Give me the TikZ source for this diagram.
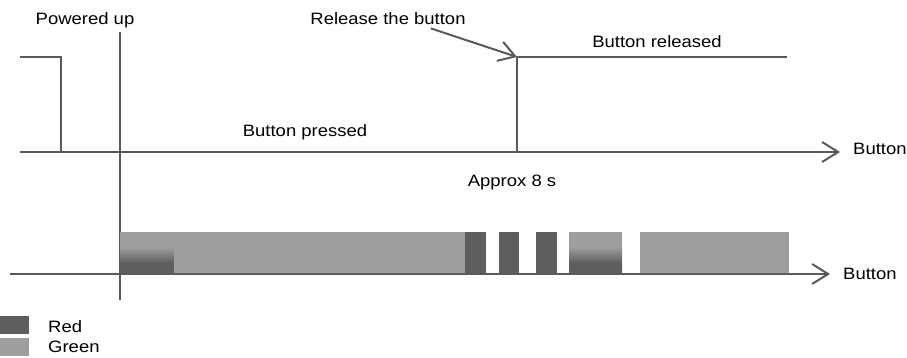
\documentclass[tikz,border=0pt]{standalone}
\usepackage{fontspec}
\setmainfont{Liberation Sans}[FakeStretch=1.12]
\usetikzlibrary{arrows.meta}
\definecolor{ledred}{HTML}{5E5E5E}
\definecolor{ledgreen}{HTML}{9E9E9E}
\definecolor{wire}{HTML}{5A5A5A}
\pgfdeclareverticalshading{redgreen}{100bp}{color(0bp)=(ledred); color(38bp)=(ledred); color(57bp)=(ledgreen); color(100bp)=(ledgreen)}
\begin{document}
\begin{tikzpicture}[x=1pt,y=-1pt,
      % The lines:
      sig/.style={line width=2pt,draw=wire},
      axis/.style={sig,-{Straight Barb[length=16pt,width=20pt]}},
      % The rest
      label/.style={inner sep=0pt,font=\fontsize{16.5}{20}\selectfont},
      redbar/.style={fill=ledred},
      greenbar/.style={fill=ledgreen},
      blinkbar/.style={shading=redgreen}]
    \useasboundingbox (0,0) rectangle (907,358);
    % button signal
    \coordinate(up)  at (517,57);
    \coordinate(btip) at (840,152);
    \coordinate(ltip) at (830,274);
    \node(pwr)[label, anchor=base] at (85,25){Powered up};
    \node(rel)[label, anchor=base] at (388,25){Release the button};
    \node(relsd)[label, anchor=base] at (657,48){Button released};
    \node(prs)[label, anchor=base] at (305,137){Button pressed};
    \node(btn)[label, anchor=base west] at (853,155){Button};
    \node(apx)[label, anchor=base] at (512,187){Approx 8 s};
    \draw[sig] (20,57) -- (61,57) -- (61,152);
    \draw[sig] (up) -- (517,152);
    \draw[sig] (up) -- (787,57);
    \draw[axis] (20,152) -- (btip);
    \draw[sig] (120,32) -- (120,300);
    \path (rel.south east) ++(-35,3) coordinate(relx);
    \draw[axis] (relx) -- (up);
    % LED
    \shade[blinkbar] (120,232) rectangle (174,274);
    \fill[greenbar] (174,232) rectangle (465,274);
    \fill[redbar] (465,232) rectangle (486,274);
    \fill[redbar] (499,232) rectangle (519,274);
    \fill[redbar] (536,232) rectangle (557,274);
    \shade[blinkbar] (569,232) rectangle (622,274);
    \fill[greenbar] (640,232) rectangle (789,274);
    \node(led)[label, anchor=base west] at (843,279){Button};
    \draw[axis] (10,274) -- (ltip);
    % legend
    \fill[redbar] (0,316) rectangle (29,334);
    \fill[greenbar] (0,338) rectangle (29,356);
    \node(kred)[label, anchor=base west] at (48,332){Red};
    \node(kgrn)[label, anchor=base west] at (48,352){Green};
  \end{tikzpicture}
\end{document}
